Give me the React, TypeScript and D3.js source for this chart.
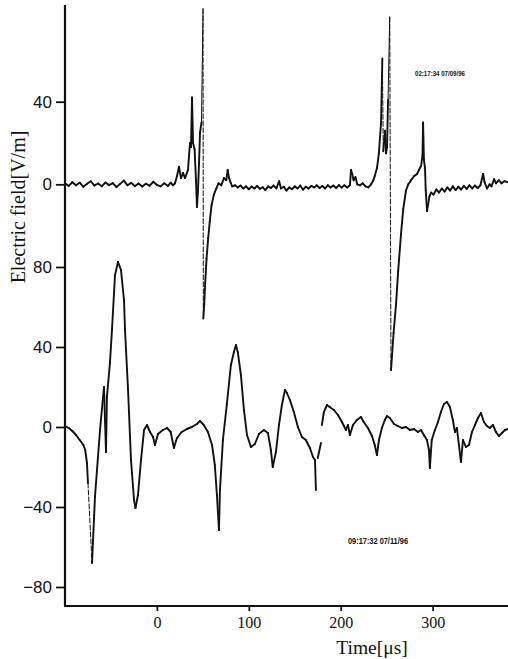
import React, { useEffect, useRef } from 'react';
import * as d3 from 'd3';

// time axis, microseconds
const timeTicks = [0, 100, 200, 300];
const upperTicks = [0, 40];
const lowerTicks = [-80, -40, 0, 40, 80];

const upperStamp = '02:17:34 07/09/96';
const lowerStamp = '09:17:32 07/11/96';

// upper record: [time, field]
const upperTrace: [number, number][] = [
  [-100, 0.5], [-96, -0.8], [-92, 1.0], [-88, -0.5], [-84, 0.8], [-80, -1.2], [-76, 0.3],
  [-72, 1.5], [-68, -0.6], [-64, 0.4], [-60, -1.0], [-56, 0.9], [-52, -0.4], [-48, 0.6],
  [-44, -1.3], [-40, 0.2], [-36, 1.8], [-32, -0.5], [-28, 0.7], [-24, -0.9], [-20, 0.4],
  [-16, -1.1], [-12, 0.3], [-8, -0.7], [-4, 1.2], [0, -0.3], [4, -1.0], [8, 0.5],
  [12, -0.8], [15, 0.8], [17.5, -0.5], [19.7, 0.5], [21.9, 4], [24, 8.5], [26.2, 3],
  [28.4, 5.5], [30.6, 3], [33.8, 7], [36, 20], [37.1, 18], [38.2, 42], [39.3, 20],
  [41, 17], [42.5, 2], [43.6, -11], [44.7, -3], [45.8, 10], [46.9, 25], [48.5, 30],
  [50.2, 85], [50.5, -65], [51.5, -58], [52.5, -48], [54, -36], [55.8, -26], [57.5, -18],
  [59.5, -10], [62, -5], [64.7, -2], [67, 0.5], [70, -0.5], [73, 3], [75.5, 2], [77, 7],
  [78.5, 3], [80, 1], [82, -1], [85, -0.5], [88, -1.5], [91, -0.6], [94, -2], [97, -1],
  [100, -2.4], [103, -1.1], [106, -2], [109, -0.8], [112, -2.2], [115, -1.4], [118, -2.8],
  [121, -1], [124, -1.8], [127, -0.6], [130, -2], [133, 1.5], [135, -2], [138, -1.2],
  [141, -3], [144, -1.5], [147, -2.4], [150, -1], [153, -2], [156, -0.6], [159, -2.6],
  [162, -1.2], [165, -2], [168, -0.8], [171, -1.5], [174, -0.5], [177, -1.8], [180, -0.8],
  [183, -2], [186, -0.5], [189, -1.5], [192, -0.6], [195, -1.8], [198, -0.4], [201, -1.6],
  [204, -0.5], [207, -1.5], [210, -0.5], [211.2, 7], [212.5, 5], [214, 2], [216, 3.5],
  [218, 0], [221, -0.5], [224, 0.5], [227, -1], [230, -1.5], [233, 0], [235.5, 2],
  [237, 4], [239.5, 8], [241.5, 15], [243.9, 30], [245.3, 61], [246.3, 16], [248.2, 26],
  [249.3, 15], [250.4, 18], [251.5, 41], [253.3, 81], [254.7, -90], [257.5, -72],
  [260.2, -58], [262.5, -42], [265.6, -24], [268, -12], [271, -3], [273.5, 0], [276.5, 2],
  [280, 4], [283, 5], [285.2, 7], [287.5, 9], [289, 14], [289.6, 30], [290.5, 12],
  [291.7, 8], [292.5, -3], [293.9, -13], [295, -10], [296.5, -6], [298.3, -4], [301, -5],
  [304, -2.5], [307, -4], [310, -2], [313, -3.5], [316, -1.5], [319, -3], [322, -1],
  [325, -2.8], [328, -1.2], [331, -2.5], [334, -0.8], [337, -2.2], [340, -0.5],
  [343, -2], [346, -0.6], [349, -1.8], [352, -0.5], [354.9, 5], [356.5, 1], [359.2, -2],
  [362, 0], [364, -1], [366.9, 2.5], [369, 0.5], [372, 2], [375, 0.5], [378, 1.5], [382, 1],
];

// lower record: [time, field], null = break in the trace
const lowerTrace: ([number, number] | null)[] = [
  [-100, 0.5], [-96, -0.5], [-92, -2], [-88, -4], [-84, -6.5], [-80, -9], [-78, -11.5],
  [-76.1, -18], [-75, -28], [-70.6, -68], [-67.4, -35], [-61.9, -1.5], [-57.6, 20],
  [-55.4, -12.5], [-54.4, 15], [-51.1, 32], [-48.9, 48.5], [-45.6, 76], [-42.3, 82.5],
  [-39.1, 78.5], [-35.8, 63.5], [-34.7, 48.5], [-31.4, 18.5], [-28.2, -16.5],
  [-24.9, -36.5], [-23.3, -40.5], [-20.6, -34], [-17.3, -16.5], [-14, -1.5], [-10.8, 1],
  [-7.5, -2.5], [-4.2, -5], [-2.1, -9], [1.2, -3.5], [6.5, -1.5], [11, -0.5], [15, -2.5],
  [18.5, -10.5], [21.8, -5.5], [27, -2.5], [32.6, -1], [38, 0], [43.5, 1.5], [46.8, 3],
  [51, 1], [55.5, -2.5], [60, -9], [63, -19], [65.3, -34], [67.5, -51.5], [68.6, -31.5],
  [71.8, -6.5], [76, 11], [80.5, 31], [83.8, 37.5], [86, 41], [88, 37.5], [91.4, 26],
  [94.7, 8.5], [98, -4], [102.3, -10], [106.6, -8.5], [111, -3.5], [116.4, -1.5],
  [120.8, -3], [124, -11.5], [126, -20], [129.5, -12.5], [132.8, 1], [136, 11],
  [139.3, 18.5], [141.5, 17], [144.7, 13.5], [149, 7.5], [153.4, 0], [157.8, -5],
  [162, -6.5], [166.5, -10.5], [169.8, -15], [172, -16.5], [173, -31.5], null,
  [175, -15.5], [178.5, -8], null, [179.5, 1], [181.7, 7.5], [185, 11], [188, 10],
  [192.6, 8.5], [197, 6], [201.3, 2.5], [205.7, -1.5], [207.8, 1], [210, -4], [213.3, 1],
  [217.6, 3.5], [222, 5], [225, 2.5], [229.6, -0.5], [234, -4.5], [237, -9], [239.4, -14],
  [241.6, -6.5], [244.8, -0.5], [248, 3.5], [250.3, 5.5], [253.5, 4.5], [258, 1.5],
  [262, 0.5], [266.6, -0.5], [271, 0], [275.3, -1.5], [279.7, -1], [284, -2.5],
  [287.3, -1.5], [290.5, -4], [293.8, -6.5], [296, -11.5], [297, -20.5], [299, -6.5],
  [302.5, -1.5], [305.8, 2.5], [309, 7.5], [312.3, 11.5], [315.6, 12.5], [318.8, 10],
  [322, 3.5], [324.3, -2.5], [326.4, -0.5], [328.6, -9], [330.8, -17.5], [333, -6.5],
  [336.2, -10], [339.5, -9], [342.8, -2.5], [346, 1], [349.3, 4.5], [352.6, 7],
  [355.8, 2.5], [359, 0.5], [362.3, -0.5], [365.6, 1], [368.9, -2.5], [372, -4.5],
  [375.4, -3], [378.7, -1.5], [382, -1],
];

const W = 508;
const H = 659;

const App = () => {
  const ref = useRef<SVGSVGElement>(null);

  useEffect(() => {
    const svg = d3.select(ref.current);
    svg.selectAll('*').remove();

    const x = d3.scaleLinear().domain([-100, 382]).range([65, 508]);
    const yTop = d3.scaleLinear().domain([0, 40]).range([184.3, 101.7]);
    const yBot = d3.scaleLinear().domain([-80, 80]).range([587, 267]);
    const axisY = 606;

    // traces: steep jumps were drawn faintly by the recorder
    const drawTrace = (pts: ([number, number] | null)[], y: d3.ScaleLinear<number, number>) => {
      const g = svg.append('g');
      for (let i = 1; i < pts.length; i++) {
        const a = pts[i - 1];
        const b = pts[i];
        if (!a || !b) continue;
        const dy = y(b[1]) - y(a[1]);
        const steep = Math.abs(dy) > 75;
        g.append('line')
          .attr('x1', x(a[0])).attr('y1', y(a[1]))
          .attr('x2', x(b[0])).attr('y2', y(b[1]))
          .attr('stroke', '#111')
          .attr('stroke-width', steep ? 1 : 1.9)
          .attr('stroke-dasharray', steep && dy > 0 ? '5 2' : null)
          .attr('stroke-linecap', 'round');
      }
    };
    drawTrace(upperTrace, yTop);
    drawTrace(lowerTrace, yBot);

    // axes
    const styleAxis = (g: any) => {
      g.select('.domain').remove();
      g.selectAll('line').attr('stroke', '#111').attr('stroke-width', 1.8);
    };

    svg.append('g')
      .attr('transform', 'translate(65,0)')
      .call(d3.axisLeft(yTop).tickValues(upperTicks).tickSize(9).tickPadding(4).tickFormat(d3.format('d')))
      .call(styleAxis)
      .selectAll('text')
      .attr('font-family', '"Liberation Sans", Arial, sans-serif')
      .attr('font-size', 17)
      .attr('fill', '#111');

    svg.append('g')
      .attr('transform', 'translate(65,0)')
      .call(d3.axisLeft(yBot).tickValues(lowerTicks).tickSize(9).tickPadding(4).tickFormat(d3.format('d')))
      .call(styleAxis)
      .selectAll('text')
      .attr('font-family', '"Liberation Sans", Arial, sans-serif')
      .attr('font-size', 17)
      .attr('fill', '#111');

    svg.append('g')
      .attr('transform', `translate(0,${axisY})`)
      .call(d3.axisBottom(x).tickValues(timeTicks).tickSize(5).tickPadding(6).tickFormat(d3.format('d')))
      .call(styleAxis)
      .selectAll('text')
      .attr('font-family', '"Liberation Serif", "Times New Roman", serif')
      .attr('font-size', 16)
      .attr('fill', '#111');

    svg.append('line')
      .attr('x1', 65).attr('y1', 5).attr('x2', 65).attr('y2', axisY)
      .attr('stroke', '#111').attr('stroke-width', 2.2);
    svg.append('line')
      .attr('x1', 64).attr('y1', axisY).attr('x2', W).attr('y2', axisY)
      .attr('stroke', '#111').attr('stroke-width', 2.2);

    // titles
    svg.append('text')
      .attr('transform', 'translate(25,207) rotate(-90)')
      .attr('text-anchor', 'middle')
      .attr('font-family', '"Liberation Serif", "Times New Roman", serif')
      .attr('font-size', 20)
      .attr('fill', '#111')
      .text('Electric field[V/m]');

    svg.append('text')
      .attr('x', 372).attr('y', 654)
      .attr('text-anchor', 'middle')
      .attr('font-family', '"Liberation Serif", "Times New Roman", serif')
      .attr('font-size', 19.5)
      .attr('fill', '#111')
      .text('Time[\u03bcs]');

    // recorder stamps
    svg.append('text')
      .attr('x', 415).attr('y', 76)
      .attr('font-family', '"Liberation Sans", Arial, sans-serif')
      .attr('font-weight', 'bold')
      .attr('font-size', 8)
      .attr('textLength', 50)
      .attr('lengthAdjust', 'spacingAndGlyphs')
      .attr('fill', '#111')
      .text(upperStamp);

    svg.append('text')
      .attr('x', 348).attr('y', 544)
      .attr('font-family', '"Liberation Sans", Arial, sans-serif')
      .attr('font-weight', 'bold')
      .attr('font-size', 9)
      .attr('textLength', 60)
      .attr('lengthAdjust', 'spacingAndGlyphs')
      .attr('fill', '#111')
      .text(lowerStamp);
  }, []);

  return (
    <svg
      ref={ref}
      width={W}
      height={H}
      style={{ position: 'absolute', left: 0, top: 0, background: '#fff' }}
    />
  );
};

export default App;
